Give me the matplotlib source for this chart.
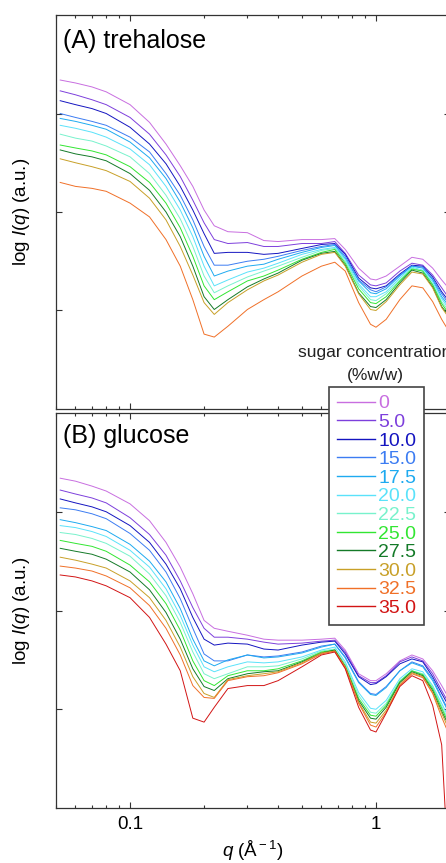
import matplotlib
matplotlib.use("Agg")
import matplotlib.pyplot as plt
from matplotlib.ticker import LogLocator, NullFormatter, FixedLocator, FixedFormatter

plt.rcParams["font.family"] = ["Liberation Sans", "DejaVu Sans"]
plt.rcParams["mathtext.fontset"] = "custom"
plt.rcParams["mathtext.rm"] = "Liberation Sans"
plt.rcParams["mathtext.it"] = "Liberation Sans:italic"

# scattering vector grid (1/A)
q = [0.052, 0.06, 0.07, 0.08, 0.10, 0.12, 0.14, 0.16, 0.18, 0.20, 0.22,
     0.25, 0.30, 0.35, 0.40, 0.50, 0.60, 0.68, 0.75, 0.85, 0.95, 1.00,
     1.10, 1.25, 1.40, 1.55, 1.70, 1.85, 2.00]

# (A) trehalose, log I(q) in decades (a.u.)
tre_00 = [2.34, 2.31, 2.27, 2.22, 2.09, 1.91, 1.69, 1.47, 1.26, 1.02, 0.86,
          0.80, 0.79, 0.71, 0.70, 0.72, 0.72, 0.73, 0.62, 0.43, 0.32, 0.31,
          0.35, 0.45, 0.54, 0.52, 0.43, 0.31, 0.21]
tre_05 = [2.23, 2.19, 2.14, 2.09, 1.96, 1.79, 1.58, 1.36, 1.12, 0.89, 0.72,
          0.68, 0.69, 0.65, 0.65, 0.68, 0.68, 0.70, 0.58, 0.36, 0.26, 0.25,
          0.28, 0.40, 0.48, 0.46, 0.36, 0.23, 0.11]
tre_10 = [2.13, 2.09, 2.05, 2.00, 1.86, 1.69, 1.49, 1.26, 1.02, 0.78, 0.58,
          0.59, 0.59, 0.57, 0.58, 0.63, 0.67, 0.68, 0.57, 0.33, 0.23, 0.22,
          0.25, 0.37, 0.46, 0.45, 0.34, 0.19, 0.08]
tre_15 = [2.00, 1.96, 1.92, 1.88, 1.76, 1.61, 1.39, 1.17, 0.92, 0.65, 0.46,
          0.46, 0.50, 0.52, 0.55, 0.61, 0.65, 0.67, 0.55, 0.31, 0.21, 0.19,
          0.24, 0.36, 0.45, 0.44, 0.32, 0.17, 0.05]
tre_175 = [1.95, 1.92, 1.88, 1.84, 1.71, 1.55, 1.34, 1.10, 0.84, 0.55, 0.35,
           0.40, 0.45, 0.47, 0.52, 0.59, 0.64, 0.66, 0.53, 0.30, 0.18, 0.17,
           0.22, 0.35, 0.45, 0.43, 0.31, 0.14, 0.03]
tre_20 = [1.88, 1.85, 1.81, 1.76, 1.64, 1.48, 1.26, 1.02, 0.75, 0.45, 0.25,
          0.31, 0.39, 0.43, 0.48, 0.57, 0.62, 0.64, 0.52, 0.27, 0.14, 0.14,
          0.19, 0.33, 0.44, 0.41, 0.29, 0.12, 0.00]
tre_225 = [1.79, 1.75, 1.72, 1.67, 1.56, 1.39, 1.17, 0.93, 0.65, 0.35, 0.18,
           0.25, 0.34, 0.40, 0.45, 0.54, 0.61, 0.63, 0.50, 0.25, 0.11, 0.10,
           0.17, 0.31, 0.43, 0.40, 0.27, 0.09, -0.02]
tre_25 = [1.68, 1.65, 1.62, 1.58, 1.46, 1.30, 1.09, 0.84, 0.55, 0.25, 0.11,
          0.19, 0.30, 0.35, 0.41, 0.52, 0.59, 0.62, 0.48, 0.22, 0.08, 0.07,
          0.14, 0.30, 0.42, 0.40, 0.26, 0.07, -0.05]
tre_275 = [1.63, 1.59, 1.56, 1.52, 1.39, 1.22, 1.00, 0.75, 0.45, 0.14, 0.01,
           0.11, 0.24, 0.32, 0.38, 0.51, 0.58, 0.60, 0.46, 0.18, 0.04, 0.03,
           0.11, 0.28, 0.41, 0.38, 0.24, 0.04, -0.07]
tre_30 = [1.54, 1.50, 1.46, 1.42, 1.31, 1.14, 0.92, 0.65, 0.36, 0.08, -0.04,
          0.08, 0.21, 0.30, 0.36, 0.49, 0.57, 0.59, 0.45, 0.17, 0.01, 0.00,
          0.09, 0.26, 0.39, 0.37, 0.23, 0.03, -0.09]
tre_325 = [1.30, 1.26, 1.24, 1.21, 1.09, 0.95, 0.72, 0.45, 0.11, -0.24, -0.27,
           -0.16, 0.01, 0.11, 0.19, 0.35, 0.45, 0.49, 0.40, 0.08, -0.14, -0.17,
           -0.09, 0.11, 0.25, 0.23, 0.09, -0.09, -0.23]

# (B) glucose, log I(q) in decades (a.u.)
glu_00 = [2.34, 2.31, 2.26, 2.21, 2.08, 1.91, 1.69, 1.44, 1.17, 0.90, 0.82,
          0.79, 0.75, 0.71, 0.70, 0.70, 0.71, 0.72, 0.60, 0.36, 0.29, 0.29,
          0.36, 0.49, 0.55, 0.51, 0.39, 0.24, 0.09]
glu_05 = [2.22, 2.18, 2.14, 2.09, 1.94, 1.77, 1.56, 1.30, 1.03, 0.82, 0.73,
          0.73, 0.71, 0.68, 0.66, 0.67, 0.69, 0.70, 0.58, 0.34, 0.27, 0.27,
          0.34, 0.48, 0.53, 0.49, 0.36, 0.19, 0.04]
glu_10 = [2.13, 2.09, 2.05, 2.00, 1.86, 1.69, 1.47, 1.22, 0.93, 0.71, 0.65,
          0.67, 0.66, 0.61, 0.60, 0.65, 0.68, 0.69, 0.56, 0.33, 0.25, 0.26,
          0.33, 0.46, 0.51, 0.48, 0.33, 0.16, 0.01]
glu_15 = [2.04, 2.02, 1.98, 1.93, 1.78, 1.61, 1.39, 1.12, 0.82, 0.56, 0.49,
          0.49, 0.55, 0.53, 0.54, 0.58, 0.64, 0.66, 0.53, 0.28, 0.16, 0.15,
          0.23, 0.39, 0.48, 0.44, 0.31, 0.12, -0.04]
glu_175 = [1.92, 1.89, 1.85, 1.81, 1.67, 1.50, 1.29, 1.02, 0.71, 0.49, 0.44,
           0.50, 0.55, 0.52, 0.53, 0.57, 0.63, 0.66, 0.52, 0.27, 0.15, 0.14,
           0.22, 0.39, 0.47, 0.43, 0.29, 0.11, -0.06]
glu_20 = [1.86, 1.84, 1.80, 1.75, 1.61, 1.44, 1.22, 0.95, 0.65, 0.43, 0.38,
          0.43, 0.48, 0.47, 0.48, 0.53, 0.60, 0.63, 0.48, 0.17, 0.01, 0.00,
          0.09, 0.31, 0.41, 0.38, 0.24, 0.06, -0.11]
glu_225 = [1.79, 1.77, 1.73, 1.68, 1.55, 1.37, 1.15, 0.88, 0.58, 0.36, 0.31,
           0.36, 0.43, 0.43, 0.44, 0.51, 0.59, 0.61, 0.46, 0.14, -0.03, -0.04,
           0.06, 0.29, 0.39, 0.36, 0.23, 0.03, -0.14]
glu_25 = [1.71, 1.68, 1.65, 1.60, 1.46, 1.29, 1.07, 0.80, 0.49, 0.29, 0.24,
          0.34, 0.39, 0.39, 0.41, 0.49, 0.58, 0.60, 0.44, 0.11, -0.06, -0.07,
          0.04, 0.28, 0.39, 0.35, 0.21, 0.01, -0.17]
glu_275 = [1.63, 1.60, 1.57, 1.52, 1.39, 1.21, 0.98, 0.71, 0.41, 0.23, 0.19,
           0.31, 0.36, 0.38, 0.39, 0.48, 0.57, 0.60, 0.43, 0.09, -0.09, -0.10,
           0.02, 0.27, 0.38, 0.34, 0.19, -0.02, -0.19]
glu_30 = [1.54, 1.51, 1.47, 1.43, 1.30, 1.13, 0.90, 0.63, 0.33, 0.16, 0.12,
          0.30, 0.34, 0.36, 0.38, 0.47, 0.57, 0.59, 0.43, 0.07, -0.13, -0.14,
          -0.01, 0.25, 0.37, 0.33, 0.17, -0.04, -0.23]
glu_325 = [1.45, 1.43, 1.40, 1.35, 1.23, 1.05, 0.82, 0.55, 0.24, 0.12, 0.11,
           0.29, 0.33, 0.34, 0.37, 0.46, 0.56, 0.59, 0.42, 0.06, -0.16, -0.18,
           -0.03, 0.24, 0.36, 0.32, 0.16, -0.08, -0.28]
glu_35 = [1.36, 1.34, 1.30, 1.25, 1.13, 0.93, 0.66, 0.39, -0.09, -0.13, 0.02,
          0.21, 0.24, 0.24, 0.29, 0.43, 0.55, 0.58, 0.41, 0.02, -0.21, -0.23,
          -0.04, 0.23, 0.34, 0.29, 0.04, -0.36, -1.93]

conc_labels = ["0", "5.0", "10.0", "15.0", "17.5", "20.0", "22.5",
               "25.0", "27.5", "30.0", "32.5", "35.0"]
colors = ["#c86ee0", "#7d3fdc", "#1414c0", "#3c7cf2", "#1eaaf0", "#5ae2fa",
          "#78f2cc", "#32e632", "#147a28", "#c8a028", "#f07028", "#d21414"]

trehalose = [tre_00, tre_05, tre_10, tre_15, tre_175, tre_20, tre_225,
             tre_25, tre_275, tre_30, tre_325]
glucose = [glu_00, glu_05, glu_10, glu_15, glu_175, glu_20, glu_225,
           glu_25, glu_275, glu_30, glu_325, glu_35]

fig = plt.figure(figsize=(4.46, 8.63), dpi=100)
axA = fig.add_axes([0.1256, 0.5261, 0.8834, 0.4565])
axB = fig.add_axes([0.1256, 0.0637, 0.8834, 0.4577])

for ys, c in zip(trehalose, colors):
    axA.plot(q, ys, color=c, lw=0.7)
lines = []
for ys, c, lab in zip(glucose, colors, conc_labels):
    ln, = axB.plot(q, ys, color=c, lw=0.7, label=lab)
    lines.append(ln)

for ax in (axA, axB):
    ax.set_xscale("log")
    ax.set_xlim(0.05, 2.0)
    ax.set_ylim(-1, 3)
    ax.yaxis.set_major_locator(FixedLocator([0, 1, 2]))
    ax.set_yticklabels([])
    ax.xaxis.set_major_locator(FixedLocator([0.1, 1.0]))
    ax.xaxis.set_minor_locator(LogLocator(base=10, subs=range(2, 10)))
    ax.xaxis.set_minor_formatter(NullFormatter())
    ax.tick_params(which="both", direction="in", top=True, right=True,
                   width=0.8, color="#333333", labelsize=13.5, pad=6)
    ax.tick_params(which="major", length=4.5)
    ax.tick_params(which="minor", length=2.5)
    for sp in ax.spines.values():
        sp.set_color("#333333")
        sp.set_linewidth(0.9)

axA.set_xticklabels([])
axB.xaxis.set_major_formatter(FixedFormatter(["0.1", "1"]))

axA.text(0.018, 0.916, "(A) trehalose", transform=axA.transAxes,
         fontsize=18, va="baseline", ha="left")
axB.text(0.018, 0.924, "(B) glucose", transform=axB.transAxes,
         fontsize=18, va="baseline", ha="left")

ylab = r"log $\it{I}$($\it{q}$) (a.u.)"
fig.text(22 / 446, 1 - 212 / 863, ylab, rotation=90, ha="center",
         va="center", fontsize=13.5)
fig.text(22 / 446, 1 - 611 / 863, ylab, rotation=90, ha="center",
         va="center", fontsize=13.5)
fig.text(253 / 446, 1 - 851 / 863, r"$\it{q}$ (Å$^{\rm -1}$)", ha="center",
         va="center", fontsize=13.5)

fig.text(375 / 446, 1 - 352 / 863, "sugar concentration", ha="center",
         va="center", fontsize=12.5, color="#222222")
fig.text(375 / 446, 1 - 375 / 863, "(%w/w)", ha="center",
         va="center", fontsize=12.5, color="#222222")

leg = fig.legend(lines, conc_labels, loc="upper left",
                 bbox_to_anchor=(329 / 446, 1 - 386.7 / 863),
                 borderaxespad=0, fontsize=14, labelcolor="linecolor",
                 handlelength=1.95, handletextpad=0.16, borderpad=0.42,
                 labelspacing=0.05, fancybox=False, framealpha=1,
                 edgecolor="#444444")
leg.get_frame().set_linewidth(1.2)
for h in leg.legend_handles:
    h.set_linewidth(1.0)

fig.savefig("out.png", dpi=100)
